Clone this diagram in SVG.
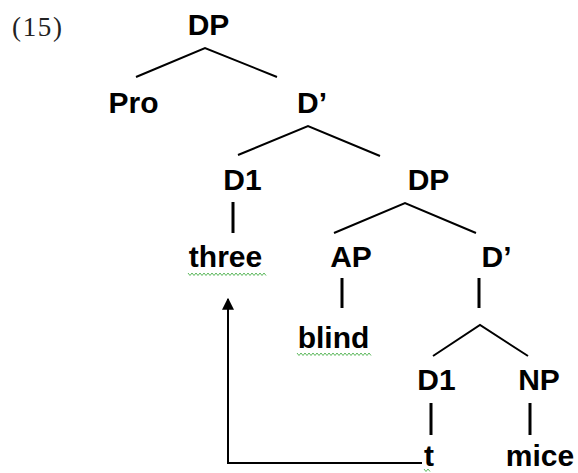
<svg xmlns="http://www.w3.org/2000/svg" width="578" height="473" viewBox="0 0 578 473">
<defs>
<style>
.lbl{font-family:"Liberation Sans",Arial,sans-serif;font-weight:bold;font-size:30px;fill:#000;text-anchor:middle}
.num{font-family:"Liberation Serif","Times New Roman",serif;font-size:27px;fill:#222}
.edge{fill:none;stroke:#000;stroke-width:2}
.bar{fill:none;stroke:#000;stroke-width:3}
.arr{fill:none;stroke:#000;stroke-width:2}
.sq{fill:none;stroke:#5cb85c;stroke-width:1}
</style>
<marker id="ah" viewBox="0 0 10 10" refX="9" refY="5" markerWidth="6" markerHeight="6" markerUnits="strokeWidth" orient="auto">
<path d="M0,0 L10,5 L0,10 z" fill="#000"/>
</marker>
</defs>
<rect width="578" height="473" fill="#fff"/>
<text class="num" x="12" y="36" textLength="50">(15)</text>
<g id="connectors">
<polyline class="edge" points="136,77 205,48 277,77"/>
<polyline class="edge" points="238,155 308,126 380,156"/>
<polyline class="edge" points="334,233 405,203 476,233"/>
<polyline class="edge" points="433,356 480,325 528,356"/>
<line class="bar" x1="233" y1="202" x2="233" y2="233"/>
<line class="bar" x1="342" y1="278" x2="342" y2="308"/>
<line class="bar" x1="479" y1="278" x2="479" y2="308"/>
<line class="bar" x1="431" y1="403" x2="431" y2="435"/>
<line class="bar" x1="530" y1="403" x2="530" y2="435"/>
<path class="arr" d="M422,463 H228 V299" marker-end="url(#ah)"/>
</g>
<g id="n-dp-top"><text class="lbl" x="208.5" y="35">DP</text></g>
<g id="n-pro"><text class="lbl" x="133.5" y="113">Pro</text></g>
<g id="n-dbar-1"><text class="lbl" x="312" y="113">D’</text></g>
<g id="n-d1-1"><text class="lbl" x="242.5" y="190">D1</text></g>
<g id="n-dp-mid"><text class="lbl" x="428.5" y="190">DP</text></g>
<g id="n-three"><text class="lbl" x="225.5" y="267">three</text>
<polyline class="sq" points="188,273 190,275.5 192,273 194,275.5 196,273 198,275.5 200,273 202,275.5 204,273 206,275.5 208,273 210,275.5 212,273 214,275.5 216,273 218,275.5 220,273 222,275.5 224,273 226,275.5 228,273 230,275.5 232,273 234,275.5 236,273 238,275.5 240,273 242,275.5 244,273 246,275.5 248,273 250,275.5 252,273 254,275.5 256,273 258,275.5 260,273 262,275.5 264,273 266,275.5"/></g>
<g id="n-ap"><text class="lbl" x="351" y="267">AP</text></g>
<g id="n-dbar-2"><text class="lbl" x="496.5" y="267">D’</text></g>
<g id="n-blind"><text class="lbl" x="333.5" y="348">blind</text>
<polyline class="sq" points="297,353 299,355.5 301,353 303,355.5 305,353 307,355.5 309,353 311,355.5 313,353 315,355.5 317,353 319,355.5 321,353 323,355.5 325,353 327,355.5 329,353 331,355.5 333,353 335,355.5 337,353 339,355.5 341,353 343,355.5 345,353 347,355.5 349,353 351,355.5 353,353 355,355.5 357,353 359,355.5 361,353 363,355.5 365,353 367,355.5 369,353 371,355.5"/></g>
<g id="n-d1-2"><text class="lbl" x="436.5" y="390">D1</text></g>
<g id="n-np"><text class="lbl" x="539" y="390">NP</text></g>
<g id="n-t"><text class="lbl" x="429" y="466">t</text>
<polyline class="sq" points="424,469 426,471.5 428,469 430,471.5"/></g>
<g id="n-mice"><text class="lbl" x="540" y="466">mice</text></g>
</svg>
